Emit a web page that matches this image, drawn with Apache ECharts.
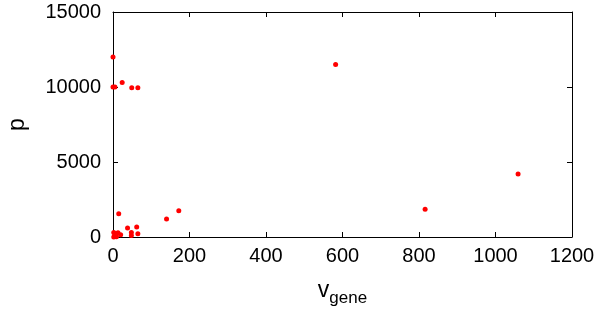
<!DOCTYPE html>
<html>
<head>
<meta charset="utf-8">
<script src="https://cdn.jsdelivr.net/npm/echarts@6/dist/echarts.min.js"></script>
<style>
  html, body { margin: 0; padding: 0; background: #fff; }
  #chart { width: 600px; height: 312px; }
</style>
</head>
<body>
<div id="chart"></div>
<script>
// values
const vGene = [0, 0, 5, 24, 49, 65, 582, 816, 1059, 172, 140, 15, 38, 62, 48, 65, 48, 2, 2, 13, 20, 9, 4]
const pVals = [12000, 10000, 10000, 10300, 9950, 9950, 11500, 1850, 4200, 1750, 1200, 1550, 600, 670, 300, 220, 100, 300, 0, 290, 150, 20, 80]

const points = vGene.map((v, i) => [v, pVals[i]])

const FONT = 'Liberation Sans, Arial, Helvetica, sans-serif'
const INK = '#000'
const plain = (v) => String(v)   // no thousands separators

// shared look for the four box sides (MATLAB style: ticks pointing in)
const side = (extra) => Object.assign({
  axisLine: { show: true, onZero: false, lineStyle: { color: INK, width: 1 } },
  axisTick: { show: true, inside: true, length: 5, lineStyle: { color: INK } },
  splitLine: { show: false },
}, extra)

const chart = echarts.init(document.getElementById('chart'))

chart.setOption({
  animation: false,
  backgroundColor: '#fff',
  grid: { left: 113, right: 28, top: 12, bottom: 75, containLabel: false, outerBoundsMode: 'none' },
  xAxis: [
    side({
      type: 'value', min: 0, max: 1200, interval: 200, position: 'bottom',
      axisLabel: { color: INK, fontSize: 20, fontFamily: FONT, margin: 9, formatter: plain },
      name: '{a|v}{b|gene}',
      nameLocation: 'middle',
      nameGap: 37,
      nameTextStyle: {
        rich: {
          a: { fontSize: 23, fontFamily: FONT, color: INK },
          b: { fontSize: 17, fontFamily: FONT, color: INK, padding: [16, 0, 0, 0] },
        },
      },
    }),
    side({
      type: 'value', min: 0, max: 1200, interval: 200, position: 'top',
      axisLabel: { show: false },
    }),
  ],
  yAxis: [
    side({
      type: 'value', min: 0, max: 15000, interval: 5000, position: 'left',
      axisLabel: { color: INK, fontSize: 20, fontFamily: FONT, margin: 12, formatter: plain },
      name: 'p',
      nameLocation: 'middle',
      nameGap: 84,
      nameTextStyle: { fontSize: 23, fontFamily: FONT, color: INK },
    }),
    side({
      type: 'value', min: 0, max: 15000, interval: 5000, position: 'right',
      axisLabel: { show: false },
    }),
  ],
  series: [{
    type: 'scatter',
    xAxisIndex: 0,
    yAxisIndex: 0,
    data: points,
    symbol: 'circle',
    symbolSize: 5,
    clip: false,
    itemStyle: { color: '#ff0000', opacity: 1 },
    z: 5,
  }],
})
</script>
</body>
</html>
